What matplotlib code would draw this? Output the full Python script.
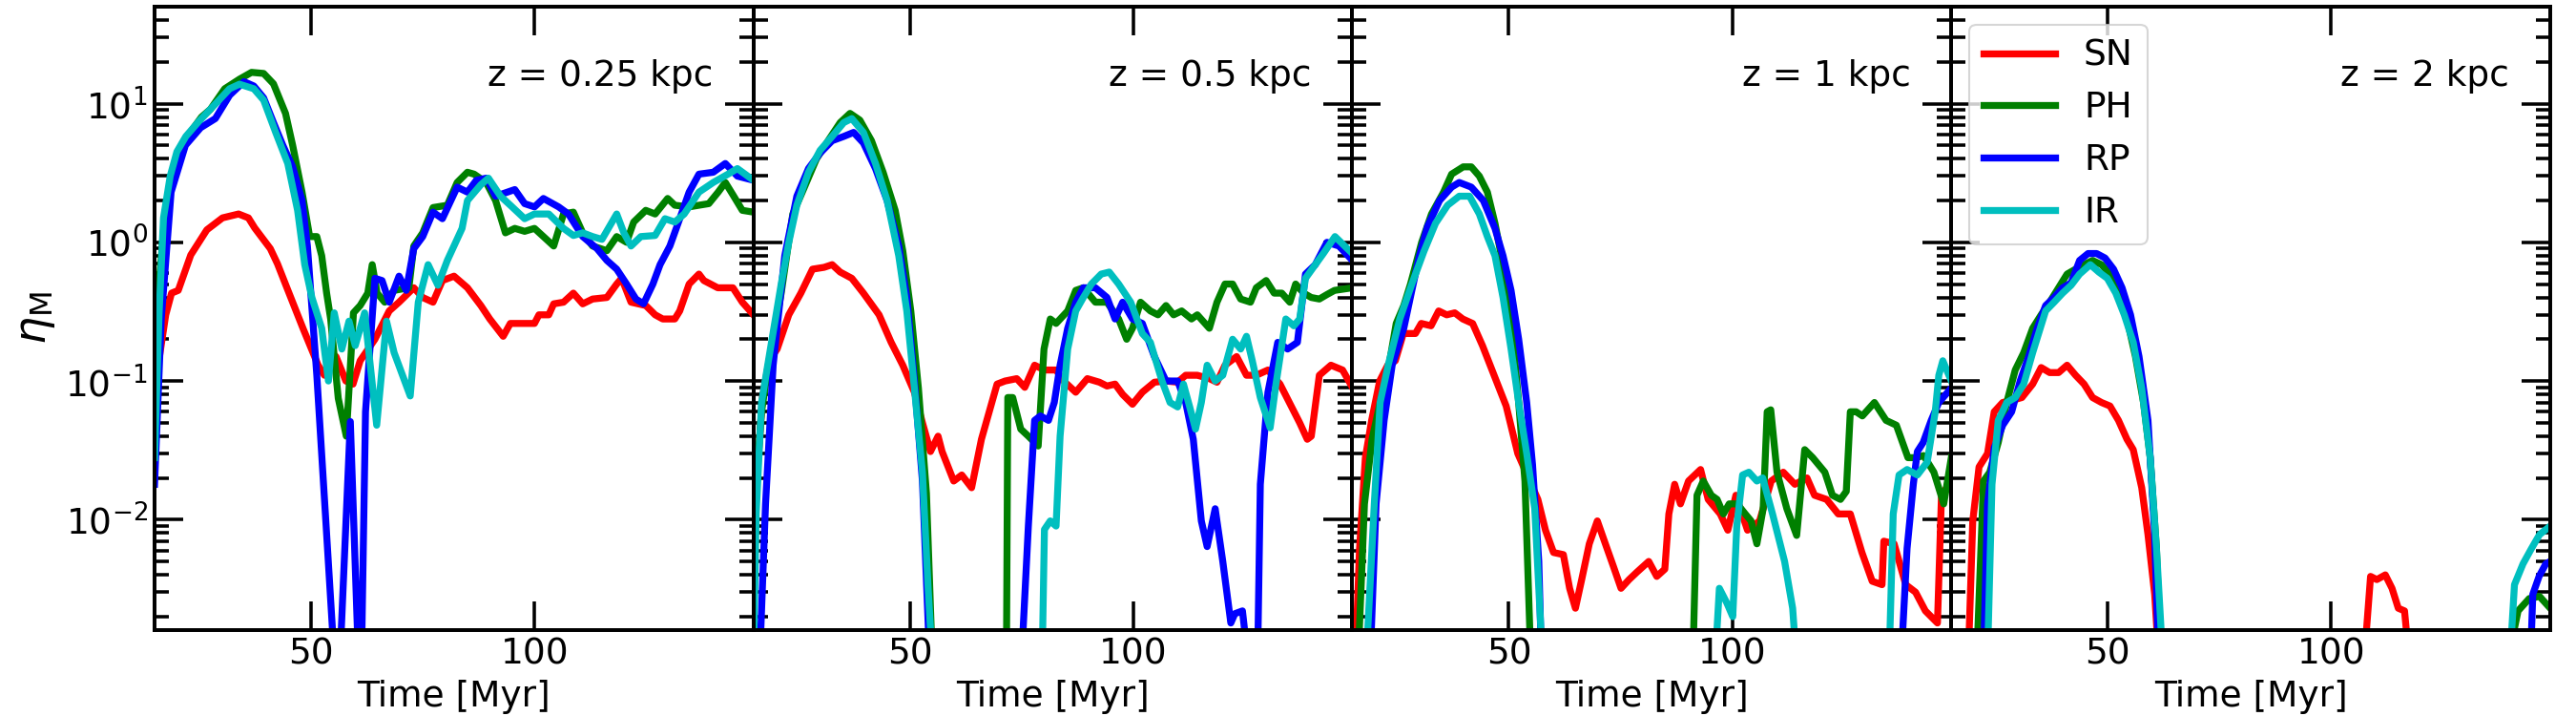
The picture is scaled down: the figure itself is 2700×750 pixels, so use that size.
import matplotlib
matplotlib.use('Agg')
import matplotlib.pyplot as plt
import numpy as np

# mass loading eta_M vs time, (t [Myr], eta) pairs
# 1e-3 = below the plotted range
heights = ['z = 0.25 kpc', 'z = 0.5 kpc', 'z = 1 kpc', 'z = 2 kpc']
labels = ['SN', 'PH', 'RP', 'IR']
colors = ['r', 'g', 'b', 'c']

# z = 0.25 kpc
sn_025 = [(15, 0.13), (16.1, 0.15), (17.5, 0.3), (18.8, 0.43), (20.3, 0.45), (23.1, 0.81), (26.7, 1.23),
          (30.2, 1.5), (33.8, 1.6), (36, 1.5), (37.4, 1.27), (40.9, 0.9), (42.5, 0.7), (44.5, 0.48),
          (48.2, 0.24), (51.6, 0.13), (53, 0.11), (55.6, 0.15), (57.8, 0.1), (59.4, 0.095), (61, 0.14),
          (64.3, 0.2), (67.5, 0.32), (69.7, 0.37), (73, 0.47), (75, 0.4), (77.3, 0.37), (79.4, 0.53),
          (82, 0.57), (85, 0.47), (88, 0.35), (90, 0.28), (93, 0.21), (94.6, 0.26), (97.8, 0.26),
          (100, 0.26), (101, 0.3), (103.2, 0.3), (104.3, 0.36), (106.5, 0.37), (108.7, 0.43), (110.8, 0.36),
          (113, 0.39), (116.2, 0.4), (118.4, 0.5), (119.5, 0.55), (121.6, 0.37), (124.9, 0.35), (127, 0.3),
          (128.7, 0.28), (131.4, 0.28), (132.5, 0.32), (134.6, 0.5), (136.8, 0.59), (137.9, 0.53),
          (141, 0.47), (144.4, 0.47), (146.5, 0.37), (149, 0.3)]
ph_025 = [(15, 0.2), (16, 0.5), (17, 1.2), (18.5, 2.5), (20, 4), (23, 6.2), (25.5, 8), (27.5, 9.1),
          (30.7, 12.8), (34, 15), (36.7, 16.8), (39.4, 16.5), (41.6, 13.9), (44.3, 8.5), (45.9, 5),
          (48, 2.3), (49.7, 1.1), (51.3, 1.1), (52.4, 0.8), (53.5, 0.43), (54.4, 0.28), (56.1, 0.075),
          (57.9, 0.04), (59.5, 0.31), (61, 0.35), (62.7, 0.43), (63.7, 0.69), (64.8, 0.43), (66.5, 0.37),
          (68.6, 0.45), (71.9, 0.47), (73, 0.94), (75, 1.17), (77.3, 1.78), (80.5, 1.85), (82.7, 2.7),
          (85, 3.2), (86.5, 3.1), (89.2, 2.7), (91.3, 2.0), (93.5, 1.17), (95.6, 1.26), (97.8, 1.2),
          (100, 1.26), (102, 1.1), (104.3, 0.94), (106.5, 1.6), (108.7, 1.65), (110.8, 1.17), (113, 0.94),
          (116.2, 0.87), (118.4, 1.1), (120.6, 1.0), (122.2, 1.4), (124.9, 1.7), (127, 1.6), (129.8, 2.07),
          (131.4, 1.85), (134.6, 1.8), (136.8, 1.85), (139, 1.9), (141.1, 2.3), (142.7, 2.7), (144.4, 2.2),
          (146.5, 1.7), (149, 1.65)]
rp_025 = [(15, 0.018), (16.5, 0.28), (18.7, 2.3), (21.9, 5), (25.3, 6.7), (28.6, 7.8), (31.8, 11.5),
          (35, 14.4), (37.2, 13.4), (39.4, 11), (41.6, 7.3), (43.7, 5), (45.9, 3.5), (48, 2), (49.2, 0.94),
          (51.3, 0.11), (53.3, 0.01), (55.2, 1e-3), (56.5, 1e-3), (58.8, 0.051), (60.6, 1e-3), (61.3, 1e-3),
          (62.2, 0.06), (64.3, 0.55), (65.9, 0.53), (67.5, 0.37), (69.7, 0.57), (71.3, 0.45), (73, 0.9),
          (75, 1.1), (77.3, 1.65), (79.4, 1.48), (82.7, 2.5), (85, 2.3), (87, 2.8), (89.2, 2.9), (91.3, 2.15),
          (95.6, 2.4), (97.8, 1.9), (100, 1.8), (102, 2.07), (105.4, 1.8), (107.6, 1.6), (110.8, 1.1),
          (114, 0.9), (116.2, 0.74), (118.4, 0.64), (120.6, 0.5), (122.7, 0.39), (124.4, 0.36), (126.5, 0.5),
          (128.1, 0.69), (130.3, 0.94), (132.5, 1.48), (134.6, 2.3), (136.8, 3.1), (140, 3.2), (142.7, 3.7),
          (145.4, 3.0), (149, 2.8)]
ir_025 = [(15, 0.028), (16, 0.3), (17, 1.5), (18.5, 3.0), (20, 4.5), (22, 5.8), (25, 7.5), (27.5, 9.1),
          (31.8, 12.8), (34, 13.8), (37.2, 12.8), (39.4, 10.6), (42.1, 6.2), (44.8, 3.7), (47, 1.7),
          (48.6, 0.69), (50.2, 0.4), (52.4, 0.24), (53.9, 0.1), (55.2, 0.31), (56.9, 0.17), (58.5, 0.27),
          (59.9, 0.18), (62, 0.31), (64.7, 0.048), (66.9, 0.27), (68.6, 0.16), (72.2, 0.078), (74, 0.37),
          (76.2, 0.69), (78.4, 0.49), (80.5, 0.74), (83.8, 1.26), (85, 2.0), (88, 2.6), (89.7, 2.9),
          (92.4, 2.15), (94.6, 1.85), (97.8, 1.48), (100, 1.6), (103.2, 1.6), (106.5, 1.26), (108.7, 1.12),
          (110.8, 1.17), (113, 1.1), (115.1, 1.05), (118.4, 1.6), (120, 1.17), (121.6, 0.94), (123.8, 1.1),
          (127, 1.12), (129.2, 1.48), (131.4, 1.4), (133.5, 1.6), (136.8, 2.3), (140, 2.7), (143.3, 3.1),
          (145.4, 3.4), (149, 2.8)]

# z = 0.5 kpc
sn_05 = [(15, 0.008), (16, 0.025), (17, 0.076), (18.5, 0.14), (20.3, 0.17), (22.9, 0.3), (25.6, 0.43),
         (28.2, 0.64), (30.8, 0.66), (32.6, 0.69), (34.4, 0.61), (37, 0.55), (39.6, 0.43), (43.1, 0.3),
         (45.8, 0.19), (48.4, 0.13), (51, 0.083), (52.8, 0.05), (54.6, 0.031), (56.3, 0.04), (57.2, 0.031),
         (59.8, 0.019), (61.6, 0.021), (63.8, 0.017), (66, 0.038), (69.5, 0.095), (71.3, 0.1), (73.9, 0.104),
         (75.7, 0.09), (77.9, 0.13), (80.1, 0.12), (82.7, 0.12), (84.4, 0.1), (87.1, 0.083), (89.7, 0.104),
         (92.4, 0.098), (94.1, 0.092), (95.9, 0.095), (97.6, 0.08), (99.8, 0.068), (102, 0.083),
         (104.7, 0.098), (107.3, 0.1), (109.9, 0.098), (111.7, 0.11), (114.3, 0.11), (117, 0.104),
         (118.7, 0.098), (120.5, 0.13), (123.1, 0.15), (125.3, 0.11), (127.5, 0.11), (130.1, 0.12),
         (132.8, 0.095), (135.4, 0.065), (137.2, 0.05), (138.9, 0.038), (139.8, 0.04), (141.6, 0.11),
         (144.2, 0.13), (146.8, 0.12), (149, 0.09)]
ph_05 = [(15, 0.01), (16.8, 0.06), (18.5, 0.14), (21.2, 0.43), (23.8, 1.6), (26.4, 2.5), (29.1, 4),
         (31.7, 5.4), (34.4, 7.3), (36.6, 8.5), (38.8, 7.6), (41.4, 5.4), (44, 3.2), (46.7, 1.7), (48.4, 0.87),
         (50.2, 0.32), (51.9, 0.089), (53.7, 0.0155), (55, 1e-3), (71.6, 1e-3), (71.9, 0.076), (73, 0.076),
         (74.8, 0.045), (76.5, 0.04), (78.7, 0.034), (80, 0.17), (81.4, 0.28), (82.7, 0.26), (85.3, 0.32),
         (87.1, 0.45), (88.8, 0.47), (91.5, 0.37), (94.1, 0.37), (96.7, 0.28), (98.5, 0.2), (99.8, 0.24),
         (101.6, 0.37), (103.8, 0.32), (105.5, 0.3), (107.3, 0.35), (109, 0.3), (110.8, 0.32), (113, 0.28),
         (114.3, 0.3), (117, 0.24), (118.7, 0.37), (120.5, 0.5), (122.2, 0.5), (124, 0.39), (126.2, 0.37),
         (127.5, 0.47), (129.7, 0.53), (131.5, 0.43), (133.2, 0.43), (135, 0.37), (136.3, 0.5), (138.1, 0.43),
         (139.8, 0.4), (141.6, 0.39), (143.3, 0.42), (145, 0.45), (149, 0.47)]
rp_05 = [(15, 1e-3), (16.4, 1e-3), (17.7, 0.013), (19.4, 0.13), (22, 0.8), (24.7, 2.15), (27.3, 3.4),
         (29.9, 4.4), (32.6, 5.4), (35.2, 5.8), (37.4, 6.2), (39.6, 5.2), (42.3, 3.4), (44.9, 2.0),
         (47.5, 0.94), (49.3, 0.4), (51, 0.1), (52.8, 0.019), (54.4, 1e-3), (75, 1e-3), (76.5, 0.009),
         (77.9, 0.052), (79.2, 0.056), (81, 0.052), (82.3, 0.07), (83.6, 0.13), (85.3, 0.24), (87.1, 0.37),
         (88.8, 0.47), (91.5, 0.47), (94.1, 0.4), (95.9, 0.28), (97.6, 0.37), (99.8, 0.28), (102, 0.26),
         (104.7, 0.15), (107.3, 0.1), (109.9, 0.1), (111.7, 0.07), (113.4, 0.038), (115.2, 0.0098),
         (116.5, 0.0064), (118.3, 0.012), (120, 0.005), (121.8, 0.0018), (122.7, 0.0021), (124.4, 0.0022),
         (125.6, 1e-3), (127.8, 1e-3), (128.4, 0.018), (130.1, 0.083), (132.3, 0.19), (134.5, 0.17),
         (136.7, 0.19), (138.5, 0.59), (140.7, 0.69), (143.3, 1.0), (146, 0.94), (149, 0.74)]
ir_05 = [(15, 1e-3), (15.6, 0.011), (16.8, 0.07), (18.5, 0.15), (21.2, 0.5), (22.9, 1.0), (24.7, 1.85),
         (27.3, 3.2), (29.9, 4.6), (32.6, 5.8), (35.2, 7.3), (37, 7.8), (39.6, 6.2), (42.3, 3.7), (44.9, 2.0),
         (47.5, 0.8), (49.3, 0.32), (51, 0.089), (52.8, 0.022), (54.1, 0.0031), (55, 1e-3), (79.6, 1e-3),
         (80.1, 0.0085), (81.4, 0.0098), (82.7, 0.009), (83.6, 0.04), (85.3, 0.17), (87.1, 0.32), (88.8, 0.4),
         (90.6, 0.5), (92.8, 0.59), (94.6, 0.61), (96.7, 0.5), (99.4, 0.37), (102, 0.22), (103.8, 0.19),
         (106.4, 0.1), (108.2, 0.07), (109.9, 0.065), (111.2, 0.095), (112.6, 0.065), (113.9, 0.045),
         (115.2, 0.07), (116.5, 0.13), (118.3, 0.1), (120, 0.11), (122.2, 0.2), (124, 0.17), (125.3, 0.21),
         (126.6, 0.14), (128.4, 0.076), (130.6, 0.046), (131.9, 0.095), (134.1, 0.28), (135.9, 0.25),
         (137.2, 0.28), (138.5, 0.55), (140.7, 0.69), (142.5, 0.83), (145.1, 1.1), (149, 0.83)]

# z = 1 kpc
sn_1 = [(15, 1e-3), (15.7, 1e-3), (16.6, 0.0062), (17.9, 0.028), (19.3, 0.052), (21.1, 0.1), (22.9, 0.13),
        (24.6, 0.14), (26.4, 0.22), (29.1, 0.22), (30.4, 0.26), (32.6, 0.25), (34.3, 0.32), (36.1, 0.3),
        (37.9, 0.31), (39.7, 0.28), (41.9, 0.26), (44.1, 0.18), (46.7, 0.11), (49.4, 0.066), (52, 0.03),
        (54.7, 0.019), (56.5, 0.014), (58.2, 0.0084), (60, 0.0058), (62.2, 0.0056), (63.6, 0.0032),
        (64.9, 0.0023), (66.3, 0.0037), (68, 0.0067), (69.8, 0.0098), (71.6, 0.0067), (73.4, 0.0046),
        (75.1, 0.0032), (76.9, 0.0037), (78.7, 0.0042), (81.3, 0.005), (83.1, 0.0039), (84.9, 0.0044),
        (85.8, 0.011), (87.1, 0.018), (88.4, 0.013), (90.2, 0.019), (92.9, 0.023), (94.6, 0.014),
        (97.3, 0.011), (99, 0.0084), (100.8, 0.015), (103.4, 0.0084), (106.1, 0.0098), (108.7, 0.019),
        (111.4, 0.022), (114, 0.018), (116.7, 0.02), (118.4, 0.015), (121.1, 0.014), (123.7, 0.011),
        (126.4, 0.011), (129, 0.0058), (131.3, 0.0036), (133.5, 0.0034), (133.9, 0.007), (136.2, 0.0067),
        (138.8, 0.0034), (141, 0.003), (143.2, 0.0022), (145.9, 0.0018), (146.8, 0.015), (149, 0.019)]
ph_1 = [(15, 1e-3), (16.3, 1e-3), (17.7, 0.013), (19.4, 0.038), (21.2, 0.07), (23, 0.12), (24.8, 0.26),
        (26.5, 0.35), (28, 0.5), (30.5, 1.0), (32.7, 1.6), (35.4, 2.3), (37.2, 3.1), (39.8, 3.5), (41.6, 3.5),
        (43.4, 3.0), (45.2, 2.3), (46.9, 1.37), (48.7, 0.69), (50.5, 0.28), (52.2, 0.07), (53.6, 0.019),
        (54.9, 1e-3), (91.2, 1e-3), (92.1, 0.015), (93.5, 0.019), (95.3, 0.015), (96.6, 0.014), (98, 0.011),
        (99.3, 0.013), (101.1, 0.013), (102.9, 0.011), (104.2, 0.0098), (105.5, 0.0067), (106.9, 0.012),
        (107.8, 0.06), (108.6, 0.062), (110, 0.022), (112.2, 0.012), (114.4, 0.0077), (116.2, 0.032),
        (118, 0.028), (120.7, 0.022), (122.4, 0.015), (124.2, 0.014), (125.5, 0.016), (126.4, 0.06),
        (127.7, 0.06), (129.1, 0.056), (131.8, 0.07), (134.4, 0.052), (136.7, 0.048), (139.3, 0.028),
        (141.1, 0.028), (142.8, 0.029), (145.1, 0.022), (147.3, 0.013), (149, 0.028)]
rp_1 = [(15, 1e-3), (19, 1e-3), (20.3, 0.013), (22.1, 0.052), (23.9, 0.13), (26.5, 0.24), (28.3, 0.45),
        (30, 0.8), (31.8, 1.3), (34.5, 2.0), (37.2, 2.5), (38.9, 2.7), (41.6, 2.5), (44.3, 2.0), (46.9, 1.26),
        (48.7, 0.8), (50.5, 0.45), (52.2, 0.2), (54, 0.07), (55.3, 0.025), (56.7, 0.005), (57.3, 1e-3),
        (137.8, 1e-3), (139.1, 0.0062), (140.5, 0.018), (141.4, 0.031), (142.7, 0.036), (144.5, 0.052),
        (146.2, 0.07), (149, 0.089)]
ir_1 = [(15, 1e-3), (18.1, 1e-3), (19.9, 0.013), (21.2, 0.07), (23, 0.13), (25.6, 0.28), (28.3, 0.5),
        (31, 0.86), (33.6, 1.37), (36.3, 1.85), (38.9, 2.15), (41.2, 2.15), (43.4, 1.6), (45.2, 1.1),
        (46.9, 0.8), (48.7, 0.4), (50.5, 0.17), (52.2, 0.07), (54, 0.03), (55.8, 0.012), (57.5, 1e-3),
        (96.2, 1e-3), (97.1, 0.0032), (98.8, 0.0025), (100.1, 0.002), (101, 0.009), (102.3, 0.021),
        (103.7, 0.022), (105.5, 0.019), (106.8, 0.02), (109, 0.011), (111.7, 0.005), (113.5, 0.0023),
        (114.3, 1e-3), (135.1, 1e-3), (136, 0.011), (137.3, 0.021), (139.1, 0.023), (141.4, 0.021),
        (143.6, 0.026), (145.4, 0.06), (146.2, 0.11), (147.1, 0.14), (149, 0.1)]

# z = 2 kpc
sn_2 = [(15, 1e-3), (18.8, 1e-3), (19.8, 0.0098), (21.2, 0.024), (23.1, 0.03), (24.6, 0.06), (26.5, 0.07),
        (28.9, 0.073), (30.8, 0.076), (33.2, 0.095), (35.1, 0.125), (37, 0.115), (39, 0.115), (40.9, 0.13),
        (42.8, 0.11), (44.7, 0.095), (46.6, 0.076), (48.6, 0.07), (50.5, 0.066), (52.4, 0.052), (54.3, 0.038),
        (55.7, 0.032), (57.6, 0.017), (59, 0.0078), (60.5, 0.0029), (61.4, 1e-3), (107.4, 1e-3),
        (108.8, 0.0039), (110.2, 0.0037), (112.1, 0.004), (113.6, 0.0032), (115, 0.0023), (116.4, 0.0022),
        (117.4, 1e-3), (149, 1e-3)]
ph_2 = [(15, 1e-3), (20.7, 1e-3), (22.2, 0.019), (23.6, 0.022), (25.5, 0.036), (27.4, 0.07), (29.3, 0.12),
        (31.2, 0.16), (33.2, 0.24), (35.1, 0.3), (37, 0.37), (39, 0.47), (40.9, 0.59), (42.8, 0.64),
        (44.7, 0.69), (46.6, 0.74), (48.6, 0.69), (50.5, 0.59), (52.4, 0.43), (54.3, 0.28), (56.2, 0.15),
        (58, 0.07), (59.5, 0.028), (60.9, 0.0062), (61.8, 1e-3), (139.6, 1e-3), (141.8, 0.0022),
        (144.3, 0.0027), (146.6, 0.0028), (149, 0.0023)]
rp_2 = [(15, 1e-3), (22.2, 1e-3), (23.1, 0.013), (24.6, 0.033), (26.5, 0.048), (28.5, 0.06), (30.4, 0.1),
        (32.3, 0.15), (34.2, 0.24), (36.1, 0.35), (38, 0.4), (39.9, 0.47), (41.8, 0.51), (43.7, 0.74),
        (45.6, 0.83), (47.5, 0.83), (49.4, 0.77), (51.3, 0.64), (53.2, 0.47), (55.1, 0.3), (57, 0.15),
        (59, 0.052), (60.4, 0.009), (61.4, 1e-3), (144.6, 1e-3), (145.1, 0.0029), (146.5, 0.0039),
        (148, 0.0048), (149, 0.005)]
ir_2 = [(15, 1e-3), (23.1, 1e-3), (24.1, 0.018), (25.5, 0.052), (27.4, 0.07), (29.3, 0.076), (31.2, 0.095),
        (33.2, 0.16), (36.1, 0.32), (38, 0.37), (39.9, 0.43), (41.8, 0.49), (43.7, 0.59), (46.1, 0.69),
        (48, 0.61), (49.9, 0.55), (51.8, 0.43), (53.7, 0.3), (55.7, 0.19), (57.6, 0.089), (59.5, 0.028),
        (60.9, 0.0062), (62.3, 1e-3), (140, 1e-3), (141, 0.0034), (142.9, 0.0048), (144.8, 0.0062),
        (146.6, 0.0078), (149, 0.009)]

panels = [
    [sn_025, ph_025, rp_025, ir_025],
    [sn_05, ph_05, rp_05, ir_05],
    [sn_1, ph_1, rp_1, ir_1],
    [sn_2, ph_2, rp_2, ir_2],
]

fig, axes = plt.subplots(1, 4, figsize=(18, 5), dpi=150, sharey=True)
fig.subplots_adjust(left=0.06, right=0.99, bottom=0.12, top=0.9907, wspace=0)

for ax, z, curves in zip(axes, heights, panels):
    for pts, lab, col in zip(curves, labels, colors):
        t, eta = np.array(pts).T
        ax.plot(t, eta, color=col, lw=3.5, label=lab)
    ax.set_yscale('log')
    ax.set_xlim(15, 149)
    ax.set_ylim(1.6e-3, 50)
    ax.set_xticks([50, 100])
    ax.tick_params(which='both', direction='in', top=True, right=True,
                   labelsize=18, width=1.7)
    ax.tick_params(which='major', length=14.4)
    ax.tick_params(which='minor', length=7.2)
    for sp in ax.spines.values():
        sp.set_linewidth(1.9)
    ax.set_xlabel('Time [Myr]', fontsize=18)
    ax.text(0.932, 0.873, z, transform=ax.transAxes, ha='right',
            va='baseline', fontsize=18)

axes[0].set_ylabel(r'$\eta_{\rm M}$', fontsize=22)
axes[3].legend(loc='upper left', fontsize=18)

fig.savefig('out.png', dpi=150)
